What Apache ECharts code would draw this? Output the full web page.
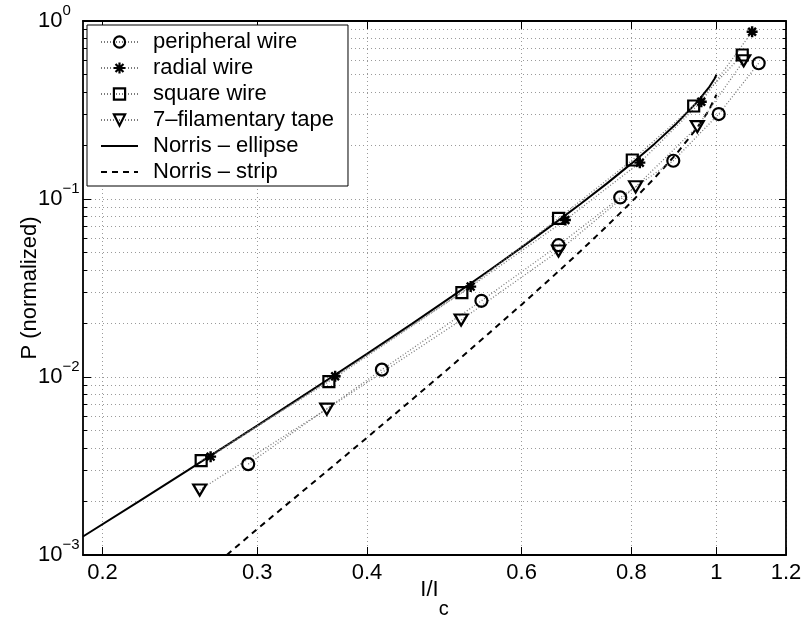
<!DOCTYPE html>
<html><head><meta charset="utf-8">
<script src="https://cdn.jsdelivr.net/npm/echarts@6/dist/echarts.min.js"></script>
<style>html,body{margin:0;padding:0;background:#fff;overflow:hidden}#c{width:805px;height:619px}</style>
</head><body><div id="c"></div>
<script>
// ---- tick values / labels ----
const xTicks = [0.2, 0.3, 0.4, 0.6, 0.8, 1, 1.2];
const xTickLabels = ['0.2', '0.3', '0.4', '0.6', '0.8', '1', '1.2'];
const yDecades = [0.001, 0.01, 0.1, 1];
const yDecadeExp = ['−3', '−2', '−1', '0'];
const yGrid = [0.001, 0.002, 0.003, 0.004, 0.005, 0.006, 0.007, 0.008, 0.009,
               0.01, 0.02, 0.03, 0.04, 0.05, 0.06, 0.07, 0.08, 0.09,
               0.1, 0.2, 0.3, 0.4, 0.5, 0.6, 0.7, 0.8, 0.9, 1];

// ---- series data ----
const periphX = [0.293, 0.416, 0.540, 0.661, 0.777, 0.893, 1.006, 1.117];
const periphY = [0.00324, 0.0110, 0.0268, 0.0550, 0.102, 0.164, 0.300, 0.579];
const radialX = [0.2655, 0.368, 0.525, 0.673, 0.818, 0.961, 1.098];
const radialY = [0.00357, 0.0101, 0.0322, 0.0762, 0.160, 0.352, 0.871];
const squareX = [0.259, 0.362, 0.513, 0.661, 0.802, 0.942, 1.070];
const squareY = [0.00339, 0.00941, 0.0298, 0.0779, 0.1656, 0.333, 0.644];
const tapeX = [0.258, 0.360, 0.512, 0.661, 0.809, 0.951, 1.074];
const tapeY = [0.00232, 0.0066, 0.0209, 0.0510, 0.117, 0.255, 0.598];
const ellipseX = [0.19, 0.22, 0.25, 0.3, 0.35, 0.4, 0.45, 0.5, 0.55, 0.6, 0.65, 0.7, 0.75, 0.8, 0.85, 0.9, 0.95, 0.98, 0.995, 1.0];
const ellipseY = [0.00127, 0.00200, 0.00299, 0.00533, 0.00874, 0.0135, 0.0199, 0.0284, 0.0394, 0.0535, 0.0713, 0.0938, 0.122, 0.158, 0.204, 0.265, 0.349, 0.422, 0.474, 0.500];
const stripX = [0.277, 0.3, 0.35, 0.4, 0.45, 0.5, 0.55, 0.6, 0.65, 0.7, 0.75, 0.8, 0.85, 0.9, 0.95, 0.98, 1.0];
const stripY = [0.00100, 0.00140, 0.00263, 0.00456, 0.00746, 0.0116, 0.0175, 0.0255, 0.0364, 0.0509, 0.0703, 0.0961, 0.131, 0.179, 0.250, 0.314, 0.386];

const seriesNames = ['peripheral wire', 'radial wire', 'square wire', '7–filamentary tape', 'Norris – ellipse', 'Norris – strip'];

function zip(xs, ys) { return xs.map((x, i) => [x, ys[i]]); }
function nearestIdx(arr, v) {
  let best = 0, bd = Infinity;
  arr.forEach((a, i) => { const d = Math.abs(Math.log(a) - Math.log(v)); if (d < bd) { bd = d; best = i; } });
  return best;
}

const FONT = 'Liberation Sans, Arial, Helvetica, sans-serif';
const X_MIN = 0.19, X_MAX = 1.2, Y_MIN = 0.001, Y_MAX = 1;
const GRIDLINE = { color: '#9a9a9a', width: 1, type: [1, 3] };
const DOT = { color: '#7a7a7a', width: 1.3, type: [1, 2] };
const hollow = { color: 'rgba(255,255,255,0)', borderColor: '#000', borderWidth: 2.2 };
const ASTERISK = 'path://M0,-10L0,10M-10,0L10,0M-7.07,-7.07L7.07,7.07M-7.07,7.07L7.07,-7.07';

function logAxisBase(extra) {
  return Object.assign({ type: 'log', logBase: 10, gridIndex: 0 }, extra);
}

const chart = echarts.init(document.getElementById('c'), null, { renderer: 'canvas' });
chart.setOption({
  animation: false,
  backgroundColor: '#fff',
  textStyle: { fontFamily: FONT, color: '#000' },
  grid: { left: 83, right: 19, top: 21, bottom: 64, containLabel: false, outerBoundsMode: 'none' },
  legend: {
    data: [
      { name: seriesNames[0], itemStyle: { borderWidth: 2.2 } },
      { name: seriesNames[1], itemStyle: { borderWidth: 2.2 } },
      { name: seriesNames[2], itemStyle: { borderWidth: 2.2 } },
      { name: seriesNames[3], itemStyle: { borderWidth: 2.2 } },
      { name: seriesNames[4], itemStyle: { opacity: 0 } },
      { name: seriesNames[5], itemStyle: { opacity: 0 } }
    ],
    orient: 'vertical',
    left: 87, top: 25,
    padding: [6, 14, 3, 13],
    itemGap: 4,
    itemWidth: 37, itemHeight: 14,
    backgroundColor: '#fff',
    borderColor: '#000', borderWidth: 1, borderRadius: 0,
    textStyle: { fontSize: 22, lineHeight: 22, color: '#000', fontFamily: FONT, padding: [0, 0, 0, 10] },
    selectedMode: false
  },
  xAxis: [
    logAxisBase({
      position: 'bottom', min: X_MIN, max: X_MAX,
      axisLine: { show: true, lineStyle: { color: '#000', width: 1.8 } },
      axisTick: { show: true, inside: true, length: 8, customValues: xTicks, lineStyle: { color: '#000', width: 1 } },
      axisLabel: {
        show: true, customValues: xTicks, margin: 7, fontSize: 22, color: '#000', fontFamily: FONT,
        formatter: v => xTickLabels[nearestIdx(xTicks, v)]
      },
      splitLine: { show: true, lineStyle: GRIDLINE },
      minorTick: { show: false }, minorSplitLine: { show: false },
      name: '{b|I/I}{c|c}',
      nameLocation: 'middle', nameGap: 6, nameMoveOverlap: false,
      nameTextStyle: {
        fontFamily: FONT, color: '#000',
        rich: {
          b: { fontSize: 22, color: '#000', fontFamily: FONT },
          c: { fontSize: 20, color: '#000', fontFamily: FONT, padding: [38, 0, 0, 0] }
        }
      }
    }),
    logAxisBase({
      position: 'top', min: X_MIN, max: X_MAX,
      axisLine: { show: true, lineStyle: { color: '#000', width: 1.8 } },
      axisTick: { show: true, inside: true, length: 8, customValues: xTicks, lineStyle: { color: '#000', width: 1 } },
      axisLabel: { show: false }, splitLine: { show: false }
    })
  ],
  yAxis: [
    logAxisBase({
      position: 'left', min: Y_MIN, max: Y_MAX,
      axisLine: { show: true, lineStyle: { color: '#000', width: 1.8 } },
      axisTick: { show: true, inside: true, length: 4, customValues: yGrid, lineStyle: { color: '#000', width: 1 } },
      axisLabel: {
        show: true, align: 'left', margin: 45,
        formatter: v => '{b|10}{s|' + yDecadeExp[nearestIdx(yDecades, v)] + '}',
        rich: {
          b: { fontSize: 22, color: '#000', fontFamily: FONT },
          s: { fontSize: 15, color: '#000', fontFamily: FONT, padding: [0, 0, 20, 0] }
        }
      },
      splitLine: { show: true, lineStyle: GRIDLINE },
      name: 'P (normalized)', nameLocation: 'middle', nameGap: 42, nameMoveOverlap: false,
      nameTextStyle: { fontSize: 22, color: '#000', fontFamily: FONT }
    }),
    logAxisBase({
      position: 'left', min: Y_MIN, max: Y_MAX,
      axisLine: { show: false },
      axisTick: { show: true, inside: true, length: 8, customValues: yDecades, lineStyle: { color: '#000', width: 1 } },
      axisLabel: { show: false }, splitLine: { show: false }
    }),
    logAxisBase({
      position: 'right', min: Y_MIN, max: Y_MAX,
      axisLine: { show: true, lineStyle: { color: '#000', width: 1.8 } },
      axisTick: { show: true, inside: true, length: 3.5, customValues: yGrid, lineStyle: { color: '#000', width: 1 } },
      axisLabel: { show: false }, splitLine: { show: false }
    }),
    logAxisBase({
      position: 'right', min: Y_MIN, max: Y_MAX,
      axisLine: { show: false },
      axisTick: { show: true, inside: true, length: 7, customValues: yDecades, lineStyle: { color: '#000', width: 1 } },
      axisLabel: { show: false }, splitLine: { show: false }
    })
  ],
  series: [
    {
      name: seriesNames[0], type: 'line', data: zip(periphX, periphY),
      symbol: 'circle', symbolSize: 12, lineStyle: DOT, itemStyle: hollow, z: 5
    },
    {
      name: seriesNames[1], type: 'line', data: zip(radialX, radialY),
      symbol: ASTERISK, symbolSize: 11, lineStyle: DOT,
      itemStyle: { color: '#000', borderColor: '#000', borderWidth: 2.4 }, z: 5
    },
    {
      name: seriesNames[2], type: 'line', data: zip(squareX, squareY),
      symbol: 'rect', symbolSize: 11, lineStyle: DOT, itemStyle: hollow, z: 5
    },
    {
      name: seriesNames[3], type: 'line', data: zip(tapeX, tapeY),
      symbol: 'triangle', symbolRotate: 180, symbolSize: [13, 11], lineStyle: DOT, itemStyle: hollow, z: 5
    },
    {
      name: seriesNames[4], type: 'line', data: zip(ellipseX, ellipseY),
      symbol: 'none', lineStyle: { color: '#000', width: 2, type: 'solid' },
      itemStyle: { color: '#000' }, z: 4
    },
    {
      name: seriesNames[5], type: 'line', data: zip(stripX, stripY),
      symbol: 'none', lineStyle: { color: '#000', width: 2, type: [6, 5] },
      itemStyle: { color: '#000' }, z: 4
    }
  ]
});
</script>
</body></html>
